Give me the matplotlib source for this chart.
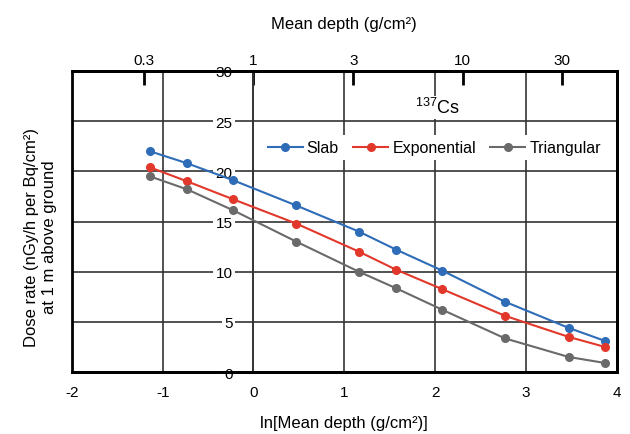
import numpy as np
import matplotlib
matplotlib.use('Agg')
import matplotlib.pyplot as plt
from matplotlib.patches import Rectangle

plt.rcParams['font.family'] = ['Liberation Sans', 'DejaVu Sans']
plt.rcParams['mathtext.fontset'] = 'custom'
plt.rcParams['mathtext.rm'] = 'Liberation Sans'
plt.rcParams['axes.unicode_minus'] = False

# data
ln_depth = [-1.14, -0.73, -0.22, 0.47, 1.16, 1.57, 2.08, 2.77, 3.47, 3.87]
slab = [22.0, 20.8, 19.1, 16.6, 14.0, 12.2, 10.1, 7.0, 4.4, 3.1]
exponential = [20.4, 19.0, 17.2, 14.8, 12.0, 10.2, 8.25, 5.6, 3.5, 2.5]
triangular = [19.5, 18.2, 16.1, 13.0, 10.0, 8.35, 6.2, 3.35, 1.5, 0.9]

top_ticks = [0.3, 1, 3, 10, 30]
top_labels = ['0.3', '1', '3', '10', '30']

fig = plt.figure(figsize=(6.3, 4.35), dpi=100)
ax = fig.add_axes([0.114, 0.1425, 0.865, 0.692])

grid_col = '#333333'
ax.set_xlim(-2, 4)
ax.set_ylim(0, 30)
ax.set_xticks(range(-2, 5))
ax.set_yticks(range(0, 31, 5))
ax.grid(True, color=grid_col, linewidth=1.2)

ax.plot(ln_depth, slab, '-o', color='#2f6cb8', lw=1.5, ms=5.5, label='Slab', zorder=3)
ax.plot(ln_depth, exponential, '-o', color='#e2382b', lw=1.5, ms=5.5, label='Exponential', zorder=3)
ax.plot(ln_depth, triangular, '-o', color='#6a6a6a', lw=1.5, ms=5.5, label='Triangular', zorder=3)

# y axis crosses at x = 0, frame drawn separately
for s in ['top', 'right', 'bottom']:
    ax.spines[s].set_linewidth(2)
    ax.spines[s].set_color('black')
ax.spines['left'].set_position(('data', 0))
ax.spines['left'].set_linewidth(1.2)
ax.spines['left'].set_color(grid_col)
ax.add_patch(Rectangle((0, 0), 1, 1, transform=ax.transAxes, fill=False,
                       lw=2, ec='black', clip_on=False, zorder=4))

ax.tick_params(axis='y', length=0, pad=15, labelsize=11)
for lab in ax.get_yticklabels():
    lab.set_bbox(dict(facecolor='white', edgecolor='none', pad=1.5))
ax.tick_params(axis='x', length=0, pad=9, labelsize=11)

# top axis in mean depth
sec = ax.secondary_xaxis('top', functions=(np.exp, np.log))
sec.set_xticks(top_ticks)
sec.set_xticklabels(top_labels)
sec.tick_params(direction='in', length=10, width=2, pad=3, labelsize=11)
sec.spines['top'].set_visible(False)
sec.set_xlabel('Mean depth (g/cm²)', fontsize=12, labelpad=18)

ax.set_xlabel('ln[Mean depth (g/cm²)]', fontsize=12, labelpad=12)
ax.set_ylabel('Dose rate (nGy/h per Bq/cm²)\nat 1 m above ground', fontsize=12)
ax.yaxis.set_label_coords(-0.028, 0.45)

ax.text(2.03, 26.4, r'$\mathregular{^{137}}$Cs', fontsize=13, ha='center', va='center',
        bbox=dict(facecolor='white', edgecolor='none', pad=1), zorder=3)

leg = ax.legend(loc='center', bbox_to_anchor=(0.665, 0.745), ncol=3, fontsize=11.5,
                frameon=True, facecolor='white', edgecolor='none', framealpha=1,
                handlelength=2.2, handletextpad=0.25, columnspacing=0.9,
                borderpad=0.3, fancybox=False)

plt.savefig('out.png', dpi=100)
